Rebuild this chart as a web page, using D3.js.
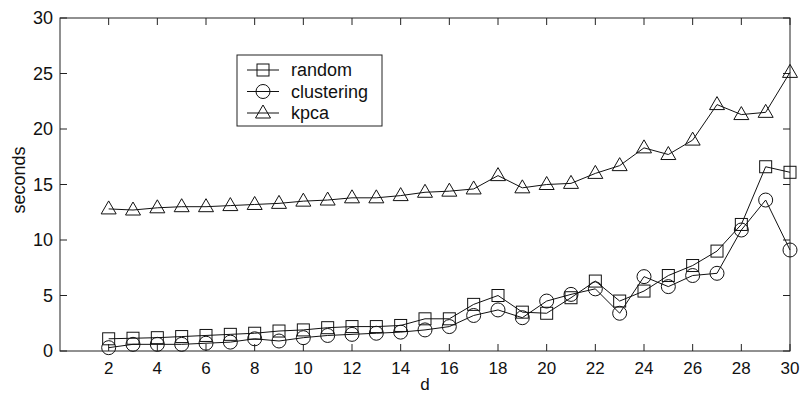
<!DOCTYPE html>
<html>
<head>
<meta charset="utf-8">
<script src="https://cdn.jsdelivr.net/npm/d3@7"></script>
<style>
  body { margin: 0; background: #fff; }
  text { font-family: "Liberation Sans", Arial, sans-serif; fill: #111; }
</style>
</head>
<body>
<div id="chart"></div>
<script>
// d values and timings (seconds)
var dims = d3.range(2, 31)
var random = [1.1, 1.15, 1.2, 1.3, 1.4, 1.5, 1.6, 1.8, 1.9, 2.1, 2.2, 2.2, 2.3, 2.9, 2.9,
              4.2, 5.0, 3.5, 3.4, 4.8, 6.3, 4.5, 5.4, 6.8, 7.7, 9.0, 11.4, 16.6, 16.1]
var clustering = [0.3, 0.6, 0.6, 0.6, 0.7, 0.8, 1.1, 0.9, 1.2, 1.4, 1.5, 1.6, 1.7, 1.9, 2.2,
                  3.2, 3.7, 3.0, 4.5, 5.1, 5.6, 3.4, 6.7, 5.8, 6.8, 7.0, 10.9, 13.6, 9.1]
var kpca = [12.8, 12.7, 12.9, 13.0, 13.0, 13.1, 13.2, 13.3, 13.5, 13.6, 13.8, 13.8, 14.0, 14.3, 14.4,
            14.6, 15.8, 14.7, 15.0, 15.1, 16.0, 16.7, 18.3, 17.7, 19.0, 22.2, 21.3, 21.5, 25.1]
var xTicks = d3.range(2, 31, 2)
var yTicks = [0, 5, 10, 15, 20, 25, 30]

var width = 800, height = 396
var pLeft = 60, pTop = 18, pRight = 790, pBottom = 351

var x = d3.scaleLinear().domain([0, 30]).range([pLeft, pRight])
var y = d3.scaleLinear().domain([0, 30]).range([pBottom, pTop])

var svg = d3.select('#chart').append('svg')
    .attr('width', width)
    .attr('height', height)

svg.append('rect')
    .attr('x', pLeft).attr('y', pTop)
    .attr('width', pRight - pLeft).attr('height', pBottom - pTop)
    .attr('fill', '#fff')

// matlab style inward ticks on all four sides
var tickLen = 7
var axes = svg.append('g').attr('stroke', '#222').attr('stroke-width', 1)
axes.selectAll('.xb').data(xTicks).enter().append('line')
    .attr('x1', d => x(d)).attr('x2', d => x(d))
    .attr('y1', pBottom).attr('y2', pBottom - tickLen)
axes.selectAll('.xt').data(xTicks).enter().append('line')
    .attr('x1', d => x(d)).attr('x2', d => x(d))
    .attr('y1', pTop).attr('y2', pTop + tickLen)
axes.selectAll('.yl').data(yTicks).enter().append('line')
    .attr('x1', pLeft).attr('x2', pLeft + tickLen)
    .attr('y1', d => y(d)).attr('y2', d => y(d))
axes.selectAll('.yr').data(yTicks).enter().append('line')
    .attr('x1', pRight).attr('x2', pRight - tickLen)
    .attr('y1', d => y(d)).attr('y2', d => y(d))
axes.append('rect')
    .attr('x', pLeft).attr('y', pTop)
    .attr('width', pRight - pLeft).attr('height', pBottom - pTop)
    .attr('fill', 'none')

svg.selectAll('.xl').data(xTicks).enter().append('text')
    .attr('x', d => x(d)).attr('y', pBottom + 23)
    .attr('text-anchor', 'middle')
    .style('font-size', '17px')
    .text(d => d)
svg.selectAll('.ylab').data(yTicks).enter().append('text')
    .attr('x', pLeft - 7).attr('y', d => y(d) + 6)
    .attr('text-anchor', 'end')
    .style('font-size', '18px')
    .text(d => d)

svg.append('text')
    .attr('x', x(15)).attr('y', 390)
    .attr('text-anchor', 'middle')
    .style('font-size', '17px')
    .text('d')
svg.append('text')
    .attr('transform', 'translate(25,180) rotate(-90)')
    .attr('text-anchor', 'middle')
    .style('font-size', '18px')
    .text('seconds')

// markers
function square(g, cx, cy) {
    g.append('rect').attr('x', cx - 6).attr('y', cy - 6).attr('width', 12).attr('height', 12)
}
function circle(g, cx, cy) {
    g.append('circle').attr('cx', cx).attr('cy', cy).attr('r', 7)
}
function triangle(g, cx, cy) {
    g.append('path').attr('d', `M${cx},${cy - 8}L${cx + 7.5},${cy + 5}L${cx - 7.5},${cy + 5}Z`)
}

var series = [
    {name: 'random', values: random, marker: square},
    {name: 'clustering', values: clustering, marker: circle},
    {name: 'kpca', values: kpca, marker: triangle}
]

var line = d3.line().x((d, i) => x(dims[i])).y(d => y(d))

series.forEach(s => {
    var g = svg.append('g').attr('fill', 'none').attr('stroke', '#111').attr('stroke-width', 1)
    g.append('path').attr('d', line(s.values))
    s.values.forEach((v, i) => s.marker(g, x(dims[i]), y(v)))
})

// legend
var lg = svg.append('g')
lg.append('rect')
    .attr('x', 237).attr('y', 55).attr('width', 145).attr('height', 71)
    .attr('fill', '#fff').attr('stroke', '#222')
series.forEach((s, i) => {
    var ly = 70 + i * 21.5
    var g = lg.append('g').attr('fill', 'none').attr('stroke', '#111')
    g.append('line').attr('x1', 247).attr('x2', 279).attr('y1', ly).attr('y2', ly)
    s.marker(g, 263, ly)
    lg.append('text')
        .attr('x', 291).attr('y', ly + 6)
        .style('font-size', '18px')
        .text(s.name)
})
</script>
</body>
</html>
